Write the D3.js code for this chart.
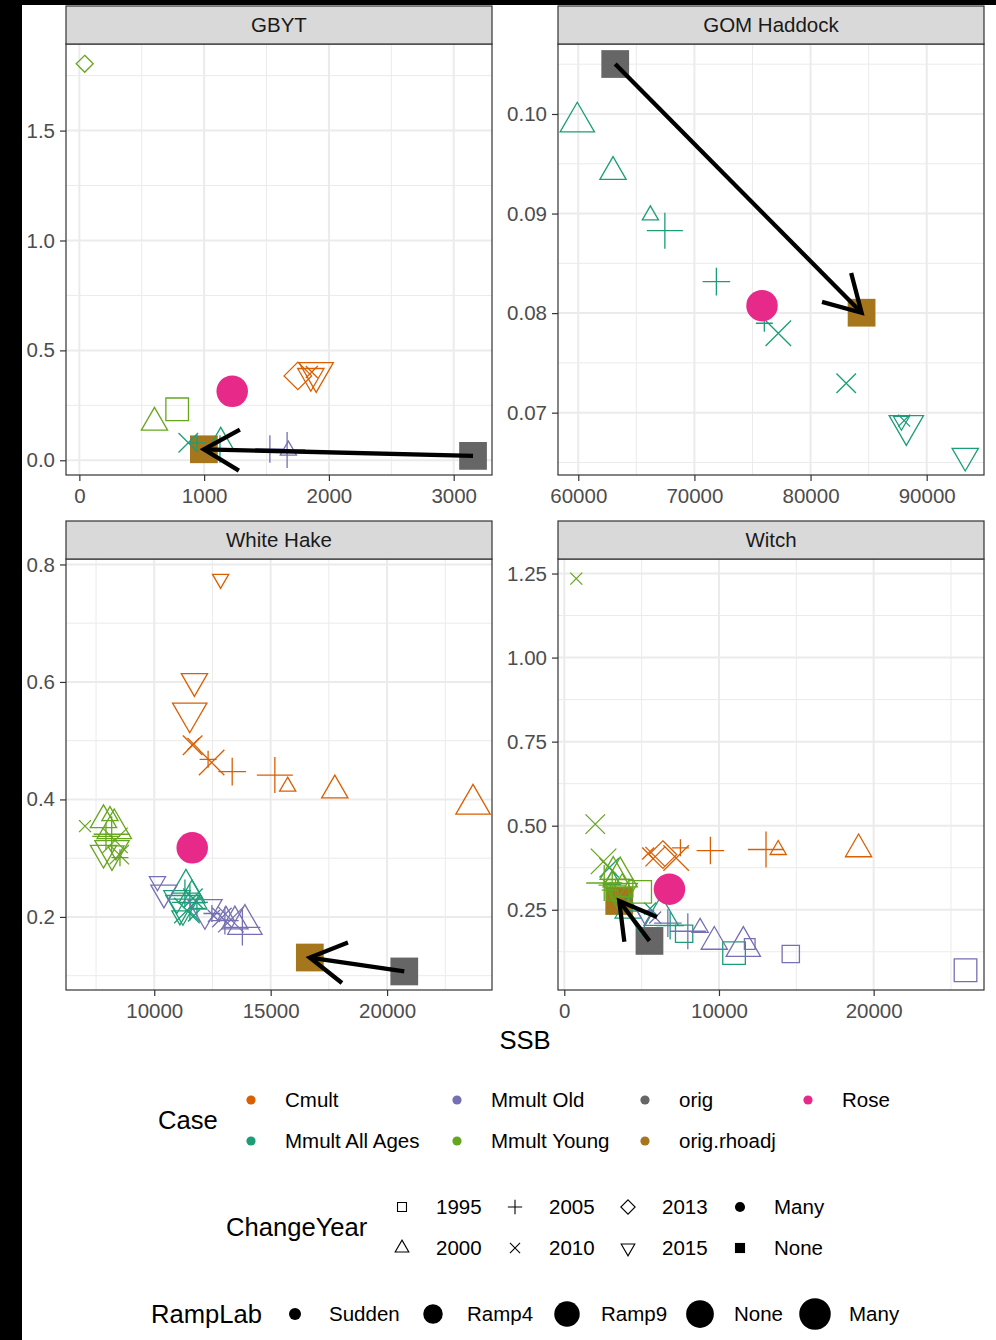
<!DOCTYPE html>
<html>
<head>
<meta charset="utf-8">
<script src="https://cdn.jsdelivr.net/npm/d3@7/dist/d3.min.js"></script>
<style>
  html, body { margin: 0; padding: 0; background: #000; }
  svg { display: block; }
  text { font-family: "Liberation Sans", Arial, Helvetica, sans-serif; }
</style>
</head>
<body>
<svg id="chart" width="996" height="1340"></svg>
<script>
// ---- categories ----
const stocks = ["GBYT", "GOM Haddock", "White Hake", "Witch"];
const caseNames = ["Cmult", "Mmult All Ages", "Mmult Old", "Mmult Young", "orig", "orig.rhoadj", "Rose"];
const caseColors = ["#D95F02", "#1B9E77", "#7570B3", "#66A61E", "#666666", "#A6761D", "#E7298A"];
const changeYears = ["1995", "2000", "2005", "2010", "2013", "2015", "Many", "None"];
const rampLabs = ["Sudden", "Ramp4", "Ramp9", "None", "Many"];

// ---- points: [Case, ChangeYear, RampLab, SSB, F] ----
const gbytPoints = [
  ["orig", "None", "None", 3155, 0.020],
  ["orig.rhoadj", "None", "None", 998, 0.050],
  ["Cmult", "2013", "Ramp4", 1751, 0.384],
  ["Cmult", "2015", "Ramp4", 1855, 0.383],
  ["Cmult", "2015", "Ramp9", 1898, 0.399],
  ["Cmult", "2010", "Sudden", 1863, 0.402],
  ["Mmult All Ages", "2010", "Ramp4", 873, 0.080],
  ["Mmult All Ages", "2005", "Sudden", 942, 0.079],
  ["Mmult All Ages", "2005", "Ramp4", 1127, 0.051],
  ["Mmult All Ages", "2000", "Ramp4", 1133, 0.081],
  ["Mmult Old", "2005", "Ramp4", 1527, 0.051],
  ["Mmult Old", "2005", "Ramp9", 1665, 0.047],
  ["Mmult Old", "2000", "Sudden", 1675, 0.045],
  ["Mmult Young", "1995", "Ramp9", 784, 0.232],
  ["Mmult Young", "2000", "Ramp4", 602, 0.172],
  ["Mmult Young", "2013", "Sudden", 43, 1.804],
  ["Rose", "Many", "Many", 1225, 0.314]
];

const gomHaddockPoints = [
  ["orig", "None", "None", 63181, 0.10502],
  ["orig.rhoadj", "None", "None", 84394, 0.08004],
  ["Mmult All Ages", "2000", "Ramp9", 59914, 0.09919],
  ["Mmult All Ages", "2000", "Ramp4", 62992, 0.09420],
  ["Mmult All Ages", "2000", "Sudden", 66208, 0.08983],
  ["Mmult All Ages", "2005", "Ramp9", 67455, 0.08828],
  ["Mmult All Ages", "2005", "Ramp4", 71892, 0.08316],
  ["Mmult All Ages", "2005", "Sudden", 76019, 0.07898],
  ["Mmult All Ages", "2010", "Ramp9", 77223, 0.07797],
  ["Mmult All Ages", "2010", "Ramp4", 83070, 0.07295],
  ["Mmult All Ages", "2010", "Sudden", 88057, 0.06920],
  ["Mmult All Ages", "2015", "Ramp9", 88246, 0.06871],
  ["Mmult All Ages", "2015", "Sudden", 87825, 0.06917],
  ["Mmult All Ages", "2015", "Ramp4", 93319, 0.06566],
  ["Rose", "Many", "Many", 75821, 0.08075]
];

const whiteHakePoints = [
  ["orig", "None", "None", 20738, 0.1072],
  ["orig.rhoadj", "None", "None", 16682, 0.1309],
  ["Cmult", "2015", "Sudden", 12850, 0.7752],
  ["Cmult", "2015", "Ramp4", 11725, 0.6013],
  ["Cmult", "2015", "Ramp9", 11524, 0.5472],
  ["Cmult", "2010", "Ramp4", 11648, 0.4923],
  ["Cmult", "2010", "Sudden", 11682, 0.4946],
  ["Cmult", "2010", "Ramp9", 12464, 0.4629],
  ["Cmult", "2005", "Sudden", 12313, 0.4683],
  ["Cmult", "2005", "Ramp4", 13348, 0.4474],
  ["Cmult", "2005", "Ramp9", 15180, 0.4415],
  ["Cmult", "2000", "Sudden", 15730, 0.4220],
  ["Cmult", "2000", "Ramp4", 17755, 0.4156],
  ["Cmult", "2000", "Ramp9", 23691, 0.3919],
  ["Mmult All Ages", "2000", "Ramp9", 11361, 0.2473],
  ["Mmult All Ages", "2000", "Ramp4", 11618, 0.2369],
  ["Mmult All Ages", "2015", "Ramp4", 10974, 0.2317],
  ["Mmult All Ages", "2015", "Ramp9", 11232, 0.2196],
  ["Mmult All Ages", "2005", "Ramp4", 11318, 0.2404],
  ["Mmult All Ages", "2005", "Ramp9", 11532, 0.2248],
  ["Mmult All Ages", "2010", "Ramp4", 11661, 0.2317],
  ["Mmult All Ages", "2010", "Ramp9", 11403, 0.2110],
  ["Mmult All Ages", "2000", "Sudden", 11918, 0.2214],
  ["Mmult All Ages", "2015", "Sudden", 11103, 0.2023],
  ["Mmult All Ages", "2005", "Sudden", 11833, 0.2144],
  ["Mmult All Ages", "2010", "Sudden", 11704, 0.2023],
  ["Mmult Old", "2015", "Sudden", 10137, 0.2605],
  ["Mmult Old", "2015", "Ramp4", 10416, 0.2411],
  ["Mmult Old", "2015", "Ramp9", 12176, 0.2127],
  ["Mmult Old", "2000", "Ramp9", 13893, 0.1873],
  ["Mmult Old", "2000", "Ramp4", 13464, 0.1925],
  ["Mmult Old", "2000", "Sudden", 13077, 0.2024],
  ["Mmult Old", "2010", "Sudden", 12562, 0.2015],
  ["Mmult Old", "2010", "Ramp4", 12906, 0.1989],
  ["Mmult Old", "2010", "Ramp9", 13292, 0.1954],
  ["Mmult Old", "2005", "Ramp9", 13785, 0.1821],
  ["Mmult Old", "2005", "Ramp4", 13034, 0.1937],
  ["Mmult Old", "2005", "Sudden", 12476, 0.2058],
  ["Mmult Young", "2010", "Sudden", 7026, 0.3545],
  ["Mmult Young", "2000", "Ramp4", 7820, 0.3649],
  ["Mmult Young", "2000", "Ramp9", 8283, 0.3500],
  ["Mmult Young", "2000", "Sudden", 8099, 0.3718],
  ["Mmult Young", "2005", "Ramp9", 8172, 0.3407],
  ["Mmult Young", "2005", "Ramp4", 7927, 0.3372],
  ["Mmult Young", "2005", "Sudden", 8528, 0.3009],
  ["Mmult Young", "2010", "Ramp4", 8498, 0.3061],
  ["Mmult Young", "2010", "Ramp9", 8313, 0.3303],
  ["Mmult Young", "2015", "Ramp4", 7820, 0.3090],
  ["Mmult Young", "2015", "Ramp9", 8185, 0.3130],
  ["Mmult Young", "2015", "Sudden", 8356, 0.3130],
  ["Rose", "Many", "Many", 11631, 0.3177]
];

const witchPoints = [
  ["orig", "None", "None", 5507, 0.1573],
  ["orig.rhoadj", "None", "None", 3551, 0.2760],
  ["Cmult", "2010", "Sudden", 5423, 0.4171],
  ["Cmult", "2010", "Ramp4", 5875, 0.4080],
  ["Cmult", "2013", "Ramp4", 6372, 0.4140],
  ["Cmult", "2010", "Ramp9", 7230, 0.4041],
  ["Cmult", "2005", "Sudden", 7508, 0.4343],
  ["Cmult", "2005", "Ramp4", 9445, 0.4261],
  ["Cmult", "2005", "Ramp9", 13041, 0.4292],
  ["Cmult", "2000", "Sudden", 13828, 0.4282],
  ["Cmult", "2000", "Ramp4", 19025, 0.4301],
  ["Mmult All Ages", "2010", "Ramp4", 2905, 0.3748],
  ["Mmult All Ages", "2000", "Sudden", 3099, 0.3386],
  ["Mmult All Ages", "2000", "Ramp9", 6262, 0.2328],
  ["Mmult All Ages", "2010", "Sudden", 5552, 0.2539],
  ["Mmult All Ages", "2005", "Ramp4", 6843, 0.2026],
  ["Mmult All Ages", "2015", "Ramp4", 4906, 0.2237],
  ["Mmult All Ages", "1995", "Ramp4", 7747, 0.1784],
  ["Mmult All Ages", "1995", "Ramp9", 10975, 0.1210],
  ["Mmult All Ages", "2000", "Ramp4", 4132, 0.2479],
  ["Mmult Old", "2005", "Ramp9", 7986, 0.1860],
  ["Mmult Old", "2005", "Ramp4", 6695, 0.2101],
  ["Mmult Old", "2000", "Ramp4", 9697, 0.1551],
  ["Mmult Old", "2000", "Ramp9", 11575, 0.1409],
  ["Mmult Old", "1995", "Sudden", 11988, 0.1482],
  ["Mmult Old", "1995", "Ramp4", 14642, 0.1186],
  ["Mmult Old", "1995", "Ramp9", 25939, 0.0700],
  ["Mmult Old", "2010", "Sudden", 5875, 0.2267],
  ["Mmult Old", "2015", "Sudden", 5229, 0.2328],
  ["Mmult Old", "2000", "Sudden", 8780, 0.1968],
  ["Mmult Young", "2010", "Sudden", 775, 1.2349],
  ["Mmult Young", "2010", "Ramp4", 2001, 0.5047],
  ["Mmult Young", "2010", "Ramp9", 2537, 0.3938],
  ["Mmult Young", "1995", "Ramp9", 4906, 0.3032],
  ["Mmult Young", "1995", "Ramp4", 3873, 0.3144],
  ["Mmult Young", "2000", "Ramp4", 3163, 0.3628],
  ["Mmult Young", "2000", "Ramp9", 3615, 0.3476],
  ["Mmult Young", "2005", "Ramp9", 2582, 0.3295],
  ["Mmult Young", "2005", "Ramp4", 3099, 0.3234],
  ["Mmult Young", "2015", "Ramp4", 3357, 0.3174],
  ["Mmult Young", "2015", "Ramp9", 3615, 0.2992],
  ["Mmult Young", "2005", "Sudden", 2970, 0.3083],
  ["Mmult Young", "2000", "Sudden", 3744, 0.3295],
  ["Mmult Young", "1995", "Sudden", 3099, 0.2934],
  ["Rose", "Many", "Many", 6798, 0.3113]
];

// ---- axis limits and tick labels per panel ----
const gbytXDomain = [-107, 3307], gbytYDomain = [-0.067, 1.894];
const gomXDomain = [58254, 94935], gomYDomain = [0.06374, 0.10703];
const hakeXDomain = [6210, 24506], hakeYDomain = [0.0756, 0.8093];
const witchXDomain = [-407, 27134], witchYDomain = [0.0113, 1.2932];

const gbytXTicks = [0, 1000, 2000, 3000], gbytYTicks = [0, 0.5, 1.0, 1.5];
const gomXTicks = [60000, 70000, 80000, 90000], gomYTicks = [0.07, 0.08, 0.09, 0.10];
const hakeXTicks = [10000, 15000, 20000], hakeYTicks = [0.2, 0.4, 0.6, 0.8];
const witchXTicks = [0, 10000, 20000], witchYTicks = [0.25, 0.50, 0.75, 1.00, 1.25];

// ---- drawing ----
const FONT_SMALL = 20.5, FONT_TITLE = 25.6;
const rampSize = { Sudden: 16, Ramp4: 26, Ramp9: 34, None: 37, Many: 42 };
const drawOrder = ["orig", "orig.rhoadj", "Cmult", "Mmult All Ages", "Mmult Old", "Mmult Young", "Rose"];
const color = d3.scaleOrdinal().domain(caseNames).range(caseColors);

const svg = d3.select("#chart");
svg.append("rect").attr("width", 996).attr("height", 1340).attr("fill", "#000");
svg.append("rect").attr("x", 22).attr("y", 5).attr("width", 974).attr("height", 1335).attr("fill", "#fff");

// R-style plotting symbols, s = symbol size in px
function symbolPath(shape, s) {
  const R = 0.375 * s;
  if (shape === "1995") { const h = R * 0.886227; return `M${-h},${-h}H${h}V${h}H${-h}Z`; }
  if (shape === "2000" || shape === "2015") {
    const f = shape === "2000" ? 1 : -1;
    const r = 1.555120 * R, yc = 0.777560 * R, xc = 1.346774 * R;
    return `M0,${-r * f}L${xc},${yc * f}L${-xc},${yc * f}Z`;
  }
  if (shape === "2005") { const h = Math.SQRT2 * R; return `M${-h},0H${h}M0,${-h}V${h}`; }
  if (shape === "2010") { const h = R; return `M${-h},${-h}L${h},${h}M${-h},${h}L${h},${-h}`; }
  if (shape === "2013") { const h = Math.SQRT2 * R; return `M0,${-h}L${h},0L0,${h}L${-h},0Z`; }
  if (shape === "Many") { return `M${R},0A${R},${R} 0 1,1 ${-R},0A${R},${R} 0 1,1 ${R},0Z`; }
  if (shape === "None") { const h = R; return `M${-h},${-h}H${h}V${h}H${-h}Z`; }
  return "";
}
const isFilled = shape => shape === "Many" || shape === "None";

function drawSymbol(g, shape, s, x, y, col) {
  const p = g.append("path").attr("d", symbolPath(shape, s)).attr("transform", `translate(${x},${y})`);
  if (isFilled(shape)) p.attr("fill", col).attr("stroke", "none");
  else p.attr("fill", "none").attr("stroke", col).attr("stroke-width", 1.3).attr("stroke-linejoin", "miter");
  return p;
}

function minorBreaks(ticks, domain) {
  const step = ticks[1] - ticks[0];
  const out = [];
  const all = [ticks[0] - step, ...ticks, ticks[ticks.length - 1] + step];
  for (let i = 0; i < all.length - 1; i++) {
    const m = (all[i] + all[i + 1]) / 2;
    if (m >= domain[0] && m <= domain[1]) out.push(m);
  }
  return out;
}

const panels = [
  { name: stocks[0], pts: gbytPoints, xd: gbytXDomain, yd: gbytYDomain, xt: gbytXTicks, yt: gbytYTicks, yf: ".1f", box: [66, 492, 44, 475, 6] },
  { name: stocks[1], pts: gomHaddockPoints, xd: gomXDomain, yd: gomYDomain, xt: gomXTicks, yt: gomYTicks, yf: ".2f", box: [558, 984, 44, 475, 6] },
  { name: stocks[2], pts: whiteHakePoints, xd: hakeXDomain, yd: hakeYDomain, xt: hakeXTicks, yt: hakeYTicks, yf: ".1f", box: [66, 492, 559, 990, 521] },
  { name: stocks[3], pts: witchPoints, xd: witchXDomain, yd: witchYDomain, xt: witchXTicks, yt: witchYTicks, yf: ".2f", box: [558, 984, 559, 990, 521] }
];

panels.forEach((p, idx) => {
  const [L, Rr, T, B, ST] = p.box;
  const x = d3.scaleLinear().domain(p.xd).range([L, Rr]);
  const y = d3.scaleLinear().domain(p.yd).range([B, T]);
  const g = svg.append("g");

  g.append("rect").attr("x", L).attr("y", T).attr("width", Rr - L).attr("height", B - T).attr("fill", "#fff");

  // grid
  const grid = g.append("g");
  minorBreaks(p.xt, p.xd).forEach(v => grid.append("line").attr("x1", x(v)).attr("x2", x(v)).attr("y1", T).attr("y2", B)
    .attr("stroke", "#EBEBEB").attr("stroke-width", 1));
  minorBreaks(p.yt, p.yd).forEach(v => grid.append("line").attr("y1", y(v)).attr("y2", y(v)).attr("x1", L).attr("x2", Rr)
    .attr("stroke", "#EBEBEB").attr("stroke-width", 1));
  p.xt.forEach(v => grid.append("line").attr("x1", x(v)).attr("x2", x(v)).attr("y1", T).attr("y2", B)
    .attr("stroke", "#EBEBEB").attr("stroke-width", 2));
  p.yt.forEach(v => grid.append("line").attr("y1", y(v)).attr("y2", y(v)).attr("x1", L).attr("x2", Rr)
    .attr("stroke", "#EBEBEB").attr("stroke-width", 2));

  // points, clipped to the panel
  const clipId = "clip" + idx;
  svg.append("clipPath").attr("id", clipId).append("rect").attr("x", L).attr("y", T).attr("width", Rr - L).attr("height", B - T);
  const pg = g.append("g").attr("clip-path", `url(#${clipId})`);
  const rows = p.pts.slice().sort((a, b) => drawOrder.indexOf(a[0]) - drawOrder.indexOf(b[0]));
  rows.forEach(r => drawSymbol(pg, r[1], rampSize[r[2]], x(r[3]), y(r[4]), color(r[0])));

  // arrow from orig to orig.rhoadj
  const o = p.pts.find(r => r[0] === "orig");
  const a = p.pts.find(r => r[0] === "orig.rhoadj");
  const x1 = x(o[3]), y1 = y(o[4]), x2 = x(a[3]), y2 = y(a[4]);
  const ang = Math.atan2(y2 - y1, x2 - x1), len = 41, spread = Math.PI / 6;
  pg.append("line").attr("x1", x1).attr("y1", y1).attr("x2", x2).attr("y2", y2)
    .attr("stroke", "#000").attr("stroke-width", 4.3);
  pg.append("path")
    .attr("d", `M${x2 - len * Math.cos(ang - spread)},${y2 - len * Math.sin(ang - spread)}L${x2},${y2}L${x2 - len * Math.cos(ang + spread)},${y2 - len * Math.sin(ang + spread)}`)
    .attr("fill", "none").attr("stroke", "#000").attr("stroke-width", 4.3).attr("stroke-linejoin", "miter");

  // border
  g.append("rect").attr("x", L).attr("y", T).attr("width", Rr - L).attr("height", B - T)
    .attr("fill", "none").attr("stroke", "#333333").attr("stroke-width", 1.2);

  // strip
  g.append("rect").attr("x", L).attr("y", ST).attr("width", Rr - L).attr("height", T - ST)
    .attr("fill", "#D9D9D9").attr("stroke", "#333333").attr("stroke-width", 1.2);
  g.append("text").attr("x", (L + Rr) / 2).attr("y", (ST + T) / 2 + 7.3).attr("text-anchor", "middle")
    .attr("font-size", FONT_SMALL).attr("fill", "#1A1A1A").text(p.name);

  // axes
  const xAxis = g.append("g").attr("transform", `translate(0,${B})`)
    .call(d3.axisBottom(x).tickValues(p.xt).tickFormat(d3.format("d")).tickSize(6).tickPadding(7));
  const yAxis = g.append("g").attr("transform", `translate(${L},0)`)
    .call(d3.axisLeft(y).tickValues(p.yt).tickFormat(d3.format(p.yf)).tickSize(6).tickPadding(5));
  [xAxis, yAxis].forEach(ax => {
    ax.select(".domain").remove();
    ax.selectAll(".tick line").attr("stroke", "#333333").attr("stroke-width", 1.2);
    ax.selectAll(".tick text").attr("fill", "#4D4D4D").attr("font-size", FONT_SMALL)
      .attr("font-family", "'Liberation Sans', Arial, sans-serif");
  });
});

// x-axis title
svg.append("text").attr("x", 525).attr("y", 1049).attr("text-anchor", "middle")
  .attr("font-size", FONT_TITLE).attr("fill", "#000").text("SSB");

// ---- legends ----
const leg = svg.append("g");
function legendText(xp, yc, txt, size) {
  leg.append("text").attr("x", xp).attr("y", yc + size * 0.36).attr("font-size", size).attr("fill", "#000").text(txt);
}

// Case
legendText(158, 1120, "Case", FONT_TITLE);
const caseCols = [251, 457, 645, 808], caseRows = [1100, 1141];
caseNames.forEach((c, i) => {
  const cx = caseCols[Math.floor(i / 2)], cy = caseRows[i % 2];
  leg.append("circle").attr("cx", cx).attr("cy", cy).attr("r", 4.6).attr("fill", color(c));
  legendText(cx + 34, cy, c, FONT_SMALL);
});

// ChangeYear
legendText(226, 1227, "ChangeYear", FONT_TITLE);
const yearCols = [402, 515, 628, 740], yearRows = [1207, 1248];
changeYears.forEach((s, i) => {
  const cx = yearCols[Math.floor(i / 2)], cy = yearRows[i % 2];
  const p = drawSymbol(leg, s, 13.5, cx, cy, "#000");
  if (!isFilled(s)) p.attr("stroke-width", 1.1);
  legendText(cx + 34, cy, s, FONT_SMALL);
});

// RampLab
legendText(151, 1314, "RampLab", FONT_TITLE);
const rampCols = [295, 433, 567, 700, 815];
rampLabs.forEach((r, i) => {
  leg.append("circle").attr("cx", rampCols[i]).attr("cy", 1314).attr("r", 0.375 * rampSize[r]).attr("fill", "#000");
  legendText(rampCols[i] + 34, 1314, r, FONT_SMALL);
});
</script>
</body>
</html>
